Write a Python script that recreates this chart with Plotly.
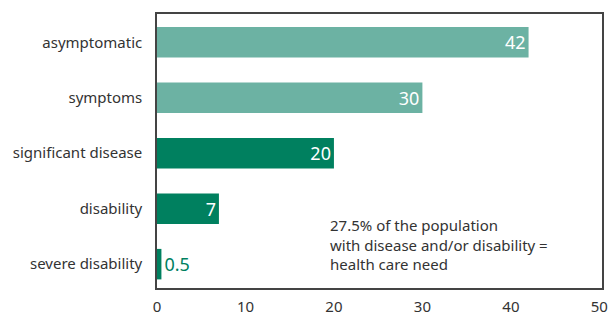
import plotly.graph_objects as go

categories = ["asymptomatic", "symptoms", "significant disease", "disability", "severe disability"]
values = [42, 30, 20, 7, 0.5]
value_labels = ["42", "30", "20", "7", "0.5"]
x_ticks = [0, 10, 20, 30, 40, 50]
note_lines = ["27.5% of the population", "with disease and/or disability =", "health care need"]

LIGHT = "#6CB2A3"
DARK = "#00805F"
bar_colors = [LIGHT, LIGHT, DARK, DARK, DARK]
text_pos = ["inside", "inside", "inside", "inside", "outside"]
text_colors = ["white", "white", "white", "white", DARK]

FONT = "Noto Sans"
TXT = "#333333"

fig = go.Figure(go.Bar(
    x=values, y=categories, orientation="h",
    marker=dict(color=bar_colors, line=dict(width=0)),
    text=value_labels, textposition=text_pos, textangle=0,
    insidetextanchor="end",
    textfont=dict(color=text_colors, size=18, family=FONT),
    constraintext="none", cliponaxis=False,
))

fig.add_annotation(
    x=19.3, y=3.64, xref="x", yref="y",
    text="<br>".join(note_lines), showarrow=False,
    xanchor="left", yanchor="middle", align="left",
    font=dict(size=15, color=TXT, family=FONT),
)

fig.update_layout(
    width=608, height=313,
    margin=dict(l=157, r=6, t=14, b=25),
    paper_bgcolor="white", plot_bgcolor="white",
    bargap=0.45, showlegend=False,
    font=dict(family=FONT, color=TXT, size=15),
)
fig.update_xaxes(
    range=[0, 50.3], tickvals=x_ticks, showgrid=False, zeroline=False,
    showline=True, mirror=True, linecolor="#444444", linewidth=1.5,
    ticks="", ticklabelstandoff=4, ticklabeloverflow="allow", automargin=False,
    tickfont=dict(size=15, color=TXT),
)
fig.update_yaxes(
    categoryorder="array", categoryarray=categories,
    range=[4.43, -0.51], showgrid=False, zeroline=False,
    showline=True, mirror=True, linecolor="#444444", linewidth=1.5,
    ticks="", ticklabelstandoff=10, automargin=False,
    tickfont=dict(size=15, color=TXT),
)

# remove the default page margin so the figure sits at the window's top-left corner
fig.write_html(
    "out.html",
    config={"displayModeBar": False},
    post_script="document.body.style.margin='0';document.body.style.overflow='hidden';",
)
